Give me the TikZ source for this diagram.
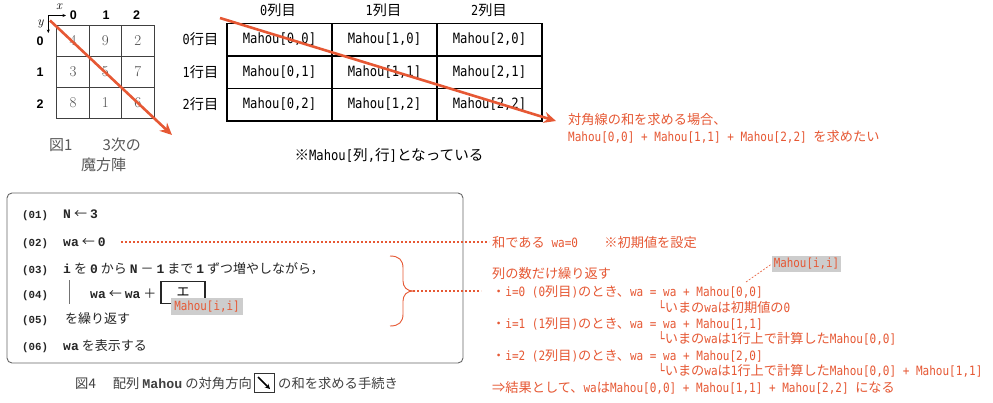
\documentclass[tikz,border=0pt]{standalone}
\usepackage{fontspec}
\usetikzlibrary{arrows.meta,calc}
\newfontfamily\jpf{Noto Sans CJK JP}
\newfontfamily\dvm{DejaVu Sans Mono}[Scale=0.97,FakeStretch=0.86]
\newfontfamily\lmo{Liberation Mono}[Scale=0.83]
\newfontfamily\lmoB{Liberation Mono}[Scale=1.0]
\newfontfamily\lsans{Liberation Sans}
\newcommand\jpsw{\jpf\mdseries}
\newcommand\cbold{\lmo\bfseries}
\newcommand\cboldB{\lmoB\bfseries}
\newcommand\lat{\dvm}
\newcommand\sk{\kern3pt}
\chardef\jpcls=50
\newcount\jpc
\jpc="21
\loop \XeTeXcharclass\jpc=0 \advance\jpc by 1 \ifnum\jpc<"2E80 \repeat
\jpc="2E80
\loop \XeTeXcharclass\jpc=\jpcls \advance\jpc by 1 \ifnum\jpc<"A000 \repeat
\jpc="FF00
\loop \XeTeXcharclass\jpc=\jpcls \advance\jpc by 1 \ifnum\jpc<"FFF0 \repeat
\XeTeXcharclass"203B=\jpcls
\XeTeXcharclass"21D2=\jpcls
\XeTeXcharclass"2190=\jpcls
\XeTeXinterchartoks 0 \jpcls = {\jpsw}
\XeTeXinterchartoks 4095 \jpcls = {\jpsw}
\XeTeXinterchartoks \jpcls 0 = {\lat}
\XeTeXinterchartoks \jpcls 4095 = {\lat}
\XeTeXinterchartokenstate=1
\definecolor{rd}{RGB}{230,88,52}
\definecolor{gb}{RGB}{205,205,205}
\begin{document}
\begin{tikzpicture}[x=1pt,y=-1pt,
  rtx/.style={text=rd,inner sep=0pt,anchor=base west,font=\fontsize{13.2}{15}\selectfont\let\lat\dvm\lat},
  cnum/.style={text=black!85,inner sep=0pt,anchor=base west,font=\fontsize{13}{15}\selectfont\let\lat\cbold\lat},
  ctx/.style={text=black!85,inner sep=0pt,anchor=base west,font=\fontsize{13}{15}\selectfont\let\lat\cboldB\lat},
  captx/.style={text=black!75,inner sep=0pt,anchor=base west,font=\fontsize{13.3}{15}\selectfont\let\lat\cboldB\lat},
  tcell/.style={draw=black,line width=1.4pt,minimum width=105pt,minimum height=32.5pt,inner sep=0pt,font=\fontsize{14.6}{16}\selectfont\let\lat\dvm\lat},
  thead/.style={inner sep=0pt,font=\fontsize{14.2}{16}\selectfont\let\lat\dvm\lat},
  mcell/.style={draw=black!75,line width=0.9pt,minimum width=32.4pt,minimum height=31pt,inner sep=0pt,text=black!70,font=\fontsize{15}{16}\selectfont},
  mlab/.style={inner sep=0pt,font=\fontsize{12.5}{14}\selectfont\lsans\bfseries},
  rarrow/.style={draw=rd,line width=2.6pt,-{Stealth[length=12pt,width=11pt]}},
  rdot/.style={draw=rd,line width=2pt,dash pattern=on 2pt off 2pt},
  gtag/.style={fill=gb,text=rd,inner xsep=3pt,inner ysep=2.5pt,font=\fontsize{13}{15}\selectfont\let\lat\dvm\lat}]
\useasboundingbox (0,0) rectangle (993,402);
\fill[white] (0,0) rectangle (993,402);

% ---- magic square
\node[mcell] (m00) at (73.0,40.5) {4};
\node[mcell] (m10) at (105.4,40.5) {9};
\node[mcell] (m20) at (137.8,40.5) {2};
\node[mcell] (m01) at (73.0,71.5) {3};
\node[mcell] (m11) at (105.4,71.5) {5};
\node[mcell] (m21) at (137.8,71.5) {7};
\node[mcell] (m02) at (73.0,102.5) {8};
\node[mcell] (m12) at (105.4,102.5) {1};
\node[mcell] (m22) at (137.8,102.5) {6};
\node[mlab] (cx0) at (73.3,15) {0};
\node[mlab] (cx1) at (106,15) {1};
\node[mlab] (cx2) at (136.7,15) {2};
\node[mlab] (ry0) at (40,41.5) {0};
\node[mlab] (ry1) at (40,72.5) {1};
\node[mlab] (ry2) at (40,104) {2};
\coordinate (ax0) at (48.3,15.5);
\coordinate (axx) at (66,15.5);
\coordinate (axy) at (48.3,33);
\draw[line width=0.6pt,-{Stealth[length=3.5pt,width=3pt]}] (ax0) -- (axx);
\draw[line width=0.6pt,-{Stealth[length=3.5pt,width=3pt]}] (ax0) -- (axy);
\node[inner sep=0pt,font=\fontsize{13}{13}\selectfont\itshape] (lx) at (59,6.5) {x};
\node[inner sep=0pt,font=\fontsize{13}{13}\selectfont\itshape] (ly) at (40.5,24) {y};
\node[inner sep=0pt,text=black!65,font=\fontsize{15}{17}\selectfont\let\lat\jpsw\lat] (cap1a) at (95,145) {図1\hspace{2em}3次の};
\node[inner sep=0pt,text=black!65,font=\fontsize{15}{17}\selectfont\let\lat\jpsw\lat] (cap1b) at (103.5,165) {魔方陣};
\coordinate (a1s) at (50,20.5);
\coordinate (a1e) at (172,135);
\draw[rarrow] (a1s) -- (a1e);

% ---- table
\node[thead] (h0) at (278,10) {0列目};
\node[thead] (h1) at (383.5,10) {1列目};
\node[thead] (h2) at (489,10) {2列目};
\node[thead] (r0) at (200.5,39.5) {0行目};
\node[thead] (r1) at (200.5,72) {1行目};
\node[thead] (r2) at (200.5,104.5) {2行目};
\node[tcell] (t00) at (279.5,39.55) {Mahou[0,0]};
\node[tcell] (t10) at (384.5,39.55) {Mahou[1,0]};
\node[tcell] (t20) at (489.5,39.55) {Mahou[2,0]};
\node[tcell] (t01) at (279.5,72.05) {Mahou[0,1]};
\node[tcell] (t11) at (384.5,72.05) {Mahou[1,1]};
\node[tcell] (t21) at (489.5,72.05) {Mahou[2,1]};
\node[tcell] (t02) at (279.5,104.55) {Mahou[0,2]};
\node[tcell] (t12) at (384.5,104.55) {Mahou[1,2]};
\node[tcell] (t22) at (489.5,104.55) {Mahou[2,2]};
\node[thead,font=\fontsize{14.6}{16}\selectfont\let\lat\dvm\lat] (note) at (389,155) {※Mahou[列,行]となっている};
\coordinate (a2s) at (220,18);
\coordinate (a2e) at (556,121);
\draw[rarrow] (a2s) -- (a2e);
\node[rtx] (T1) at (568,124) {対角線の和を求める場合、};
\node[rtx] (T2) at (568,141) {Mahou[0,0] + Mahou[1,1] + Mahou[2,2] を求めたい};

% ---- code box
\node[draw=black!60,line width=0.9pt,rounded corners=5pt,minimum width=456pt,minimum height=170pt,inner sep=0pt] (cbox) at (235,278) {};
\node[cnum] (n1) at (22,218) {(01)};
\node[cnum] (n2) at (22,246.5) {(02)};
\node[cnum] (n3) at (22,273) {(03)};
\node[cnum] (n4) at (22,298) {(04)};
\node[cnum] (n5) at (22,323) {(05)};
\node[cnum] (n6) at (22,350) {(06)};
\node[ctx] (s1) at (63,218) {N\sk ←\sk 3};
\node[ctx] (s2) at (63,246.5) {wa\sk ←\sk 0};
\node[ctx] (s3) at (63,273) {i\sk を\sk 0\sk から\sk N\sk －\sk 1\sk まで\sk 1\sk ずつ増やしながら，};
\node[ctx] (s4) at (90,298) {wa\sk ←\sk wa\sk ＋};
\node[ctx] (s5) at (65,323) {を繰り返す};
\node[ctx] (s6) at (63,350) {wa\sk を表示する};
\coordinate (bar1) at (69.5,280);
\coordinate (bar2) at (69.5,304);
\draw[black!55,line width=0.8pt] (bar1) -- (bar2);
\node[draw=black!85,line width=1.4pt,minimum width=44pt,minimum height=21.5pt,inner sep=0pt,font=\fontsize{13}{15}\selectfont\let\lat\jpsw\lat] (ebox) at (183,292.5) {エ};
\node[gtag] (tag1) at (207,306.5) {Mahou[i,i]};
\node[captx] (cap4a) at (75,388) {図{\jpsw 4}\hspace{17pt}配列\kern3pt Mahou\kern3pt の対角方向};
\node[draw=black!80,line width=0.9pt,minimum width=20pt,minimum height=19pt,inner sep=0pt] (icon) at (264,383) {};
\draw[line width=1.6pt,-{Stealth[length=5pt,width=5pt]}] ($(icon.center)+(-6,-6)$) -- ($(icon.center)+(6,6)$);
\node[captx] (cap4b) at (278,388) {の和を求める手続き};

% ---- brace and dotted connectors
\draw[rd,line width=0.9pt] (390,256) .. controls (399,256) and (403,260) .. (403,268) -- (403,281) .. controls (403,287) and (407,291) .. (413,291) .. controls (407,291) and (403,295) .. (403,301) -- (403,314) .. controls (403,322) and (399,326) .. (390,326);
\coordinate (bracetip) at (413,291);
\coordinate (dot3e) at (481,291);
\draw[rdot] (bracetip) -- (dot3e);
\coordinate (dot2s) at (121,242);
\coordinate (dot2e) at (489,242);
\draw[rdot] (dot2s) -- (dot2e);

% ---- right explanation
\node[rtx] (L1) at (492,247) {和である wa=0　　※初期値を設定};
\node[rtx] (L2) at (492,278) {列の数だけ繰り返す};
\node[rtx] (L3) at (492,296) {・i=0 (0列目)のとき、wa = wa + Mahou[0,0]};
\node[rtx] (L4) at (658,312) {└いまのwaは初期値の0};
\node[rtx] (L5) at (492,328) {・i=1 (1列目)のとき、wa = wa + Mahou[1,1]};
\node[rtx] (L6) at (658,343) {└いまのwaは1行上で計算したMahou[0,0]};
\node[rtx] (L7) at (492,360) {・i=2 (2列目)のとき、wa = wa + Mahou[2,0]};
\node[rtx] (L8) at (658,375) {└いまのwaは1行上で計算したMahou[0,0] + Mahou[1,1]};
\node[rtx] (L9) at (492,392) {⇒結果として、waはMahou[0,0] + Mahou[1,1] + Mahou[2,2] になる};
\node[gtag,inner xsep=2pt,inner ysep=2.5pt] (tag2) at (806.5,264) {Mahou[i,i]};
\coordinate (tagline) at (746,282);
\draw[rd,line width=0.6pt,dash pattern=on 2pt off 1.5pt] (tagline) -- (tag2.west);
\end{tikzpicture}
\end{document}
